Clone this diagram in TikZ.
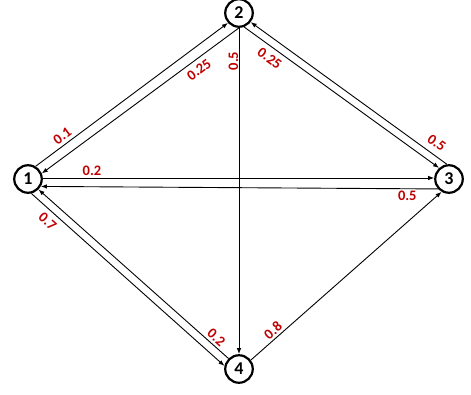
\documentclass[tikz,border=0pt]{standalone}
\usepackage{fontspec}
\setmainfont{Carlito}
\usetikzlibrary{arrows.meta}
\definecolor{lblred}{HTML}{C00000}
\begin{document}
\begin{tikzpicture}[x=1pt,y=-1pt,
  state/.style={circle,draw,line width=2.2pt,minimum size=27.5pt,inner sep=0pt,font=\fontsize{18}{20}\selectfont\bfseries},
  edge/.style={line width=0.9pt,-{Latex[length=6pt,width=4.5pt]}},
  lbl/.style={text=lblred,font=\fontsize{14.5}{16}\selectfont\bfseries,inner sep=0pt}]
\useasboundingbox (0,0) rectangle (471,394);
\node[state] (n1) at (28,179) {1};
\node[state] (n2) at (239,13) {2};
\node[state] (n3) at (449,179) {3};
\node[state] (n4) at (239,369) {4};
% edges
\draw[edge] (n1.59) -- (n2.222);
\draw[edge] (n2.270) -- (n1.22);
\draw[edge] (n2.290) -- (n3.132);
\draw[edge] (n3.98) -- (n2.322);
\draw[edge] (n1.4) -- (n3.176);
\draw[edge] (n3.222) -- (n1.-30);
\draw[edge] (n1.-77) -- (n4.168);
\draw[edge] (n4.135) -- (n1.-45);
\draw[edge] (n2.270) -- (n4.90);
\draw[edge] (n4.37) -- (n3.240);
% labels
\node[lbl,rotate=36.5] (l12) at (62.3,135.7) {0.1};
\node[lbl,rotate=36.5] (l21) at (199,69.7) {0.25};
\node[lbl,rotate=90] (l24) at (233.3,61) {0.5};
\node[lbl,rotate=-36] (l23) at (269.7,58.3) {0.25};
\node[lbl,rotate=-36] (l32) at (436.7,142.7) {0.5};
\node[lbl] (l13) at (92,170.3) {0.2};
\node[lbl] (l31) at (407.3,196) {0.5};
\node[lbl,rotate=-42] (l14) at (47.7,221.7) {0.7};
\node[lbl,rotate=-42] (l41) at (216.3,337.3) {0.2};
\node[lbl,rotate=41] (l43) at (273,330.3) {0.8};
\end{tikzpicture}
\end{document}
